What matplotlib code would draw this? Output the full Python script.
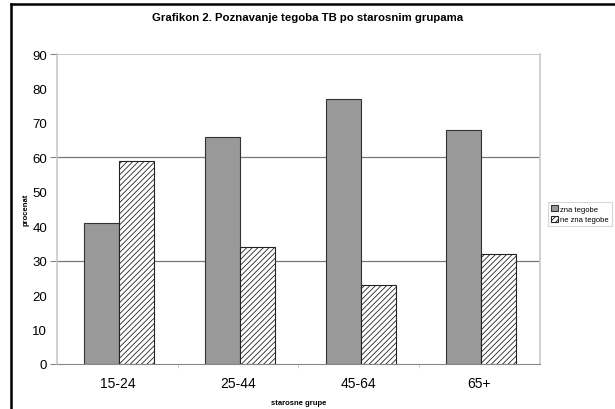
import matplotlib.pyplot as plt
import numpy as np
from matplotlib.lines import Line2D
from matplotlib.ticker import FixedLocator, FormatStrFormatter

plt.rcParams['font.family'] = ['Liberation Sans', 'DejaVu Sans']
plt.rcParams['hatch.linewidth'] = 0.6

groups = ['15-24', '25-44', '45-64', '65+']
zna = [41, 66, 77, 68]
ne_zna = [59, 34, 23, 32]
labels = ['zna tegobe', 'ne zna tegobe']

fig = plt.figure(figsize=(6.15, 4.10), dpi=100)
ax = fig.add_axes([0.0927, 0.1098, 0.785, 0.756])

x = np.arange(len(groups))
w = 0.29
ax.bar(x - w / 2 + 0.015, zna, w, color='#999999', edgecolor='#333333', linewidth=0.8, label=labels[0])
ax.bar(x + w / 2 + 0.015, ne_zna, w, color='white', edgecolor='#222222', hatch='//////', linewidth=0.8, label=labels[1])

ax.set_xlim(-0.5, 3.5)
ax.set_ylim(0, 90)
# major ticks (with marks) every 30, minor labels in between
ax.yaxis.set_major_locator(FixedLocator([0, 30, 60, 90]))
ax.yaxis.set_minor_locator(FixedLocator([10, 20, 40, 50, 70, 80]))
ax.yaxis.set_major_formatter(FormatStrFormatter('%d'))
ax.yaxis.set_minor_formatter(FormatStrFormatter('%d'))
ax.tick_params(axis='y', which='major', labelsize=9.5, length=5, pad=2, color='#888888')
ax.tick_params(axis='y', which='minor', labelsize=9.5, length=0, pad=7)

ax.set_xticks(x)
ax.set_xticks([0.5, 1.5, 2.5], minor=True)
ax.set_xticklabels(groups, fontsize=10)
ax.tick_params(axis='x', which='major', length=0, pad=9)
ax.tick_params(axis='x', which='minor', length=3, color='#cccccc')
for g in [30, 60]:
    ax.axhline(g, color='#777777', linewidth=0.9, zorder=0)
ax.axhline(90, color='#bbbbbb', linewidth=1.2, zorder=0)
for s in ['left', 'right']:
    ax.spines[s].set_color('#c8c8c8')
    ax.spines[s].set_linewidth(1.2)
ax.spines['top'].set_visible(False)
ax.spines['bottom'].set_color('#888888')

ax.set_xlabel('starosne grupe', fontsize=5.5, fontweight='bold', labelpad=6)
ax.set_ylabel('procenat', fontsize=5.5, fontweight='bold', labelpad=2)

fig.suptitle('Grafikon 2. Poznavanje tegoba TB po starosnim grupama', fontsize=8.2, fontweight='bold', y=0.968)

leg = fig.legend(loc='upper left', bbox_to_anchor=(0.885, 0.515), fontsize=5.5, frameon=True,
                 fancybox=False, edgecolor='#cccccc', handlelength=0.9, handleheight=0.9,
                 handletextpad=0.3, borderpad=0.4, labelspacing=0.4)
leg.get_frame().set_linewidth(0.8)

# outer frame lines (left and top)
fig.add_artist(Line2D([11 / 615, 11 / 615], [0, 1 - 5 / 410], color='black', linewidth=1.8))
fig.add_artist(Line2D([11 / 615, 1], [1 - 5 / 410, 1 - 5 / 410], color='black', linewidth=1.8))

fig.savefig('out.png', dpi=100)
